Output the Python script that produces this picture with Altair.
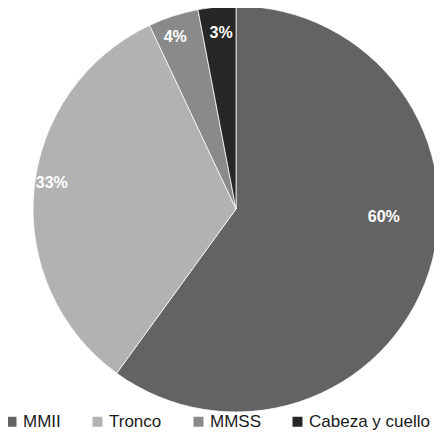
import altair as alt
import pandas as pd

categories = ["MMII", "Tronco", "MMSS", "Cabeza y cuello"]
values = [60, 33, 4, 3]
colors = ["#636363", "#b2b2b2", "#8a8a8a", "#262626"]

df = pd.DataFrame({"categoria": categories, "valor": values, "orden": list(range(len(categories)))})

CX, CY, R = 228, 201, 203

base = alt.Chart(df).encode(
    theta=alt.Theta("valor:Q", stack=True),
    order=alt.Order("orden:Q"),
)

pie = base.mark_arc(x=CX, y=CY, radius=R, stroke="white", strokeWidth=0.75).encode(
    color=alt.Color(
        "categoria:N",
        scale=alt.Scale(domain=categories, range=colors),
        sort=categories,
        legend=alt.Legend(
            orient="none",
            legendX=-5,
            legendY=405,
            direction="horizontal",
            columns=4,
            title=None,
            symbolType="square",
            symbolSize=100,
            symbolStrokeWidth=0,
            labelFont="Liberation Sans",
            labelFontSize=17,
            labelColor="#1a1a1a",
            labelOffset=3,
            columnPadding=28,
            padding=0,
        ),
    )
)

text_style = dict(x=CX, y=CY, font="Liberation Sans", fontSize=16, fontWeight="bold",
                  color="white", align="center", baseline="middle")

labels_all = base.transform_calculate(etiqueta="datum.valor + '%'")


def label_layer(cat, radius, offset):
    return labels_all.mark_text(radius=radius, thetaOffset=offset, **text_style).encode(
        text=alt.condition(f"datum.categoria == '{cat}'", "etiqueta:N", alt.value(""))
    )


layers = [
    label_layer("MMII", 148, -0.26),
    label_layer("Tronco", 186, 0.045),
    label_layer("MMSS", 182, -0.026),
    label_layer("Cabeza y cuello", 177, 0.01),
]

chart = alt.layer(pie, *layers).properties(
    width=426, height=425, padding=0, autosize="none", background="white"
).configure_view(stroke=None)

chart.save("out.html", embed_options={"renderer": "svg", "actions": False})
